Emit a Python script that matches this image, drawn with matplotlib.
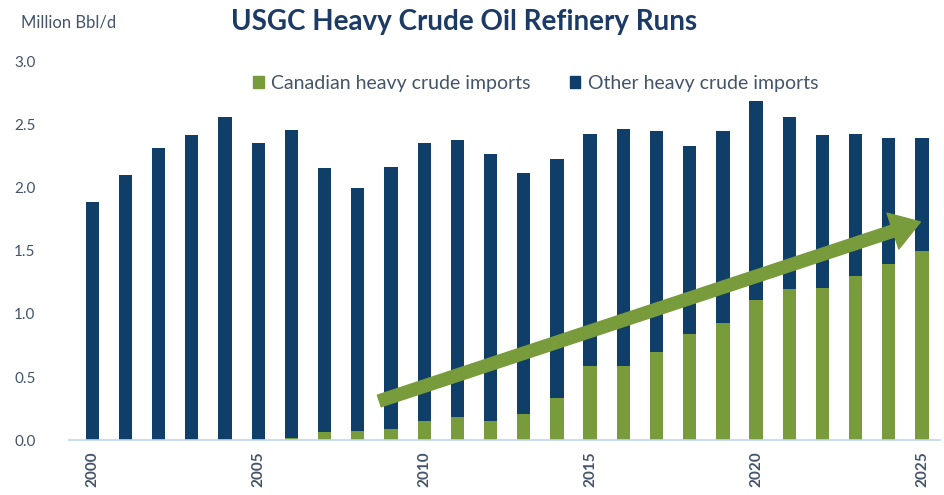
import numpy as np
import matplotlib
matplotlib.use('Agg')
import matplotlib.pyplot as plt
from matplotlib.patches import Patch

# data (million bbl/d)
years = list(range(2000, 2026))
total_runs = [1.89, 2.10, 2.32, 2.42, 2.56, 2.36, 2.46, 2.16, 2.00, 2.17,
              2.36, 2.38, 2.27, 2.12, 2.23, 2.43, 2.47, 2.45, 2.33, 2.45,
              2.69, 2.56, 2.42, 2.43, 2.40, 2.40]
canadian = [0.0, 0.0, 0.0, 0.0, 0.0, 0.0, 0.02, 0.06, 0.07, 0.09,
            0.15, 0.18, 0.15, 0.21, 0.33, 0.59, 0.59, 0.70, 0.84, 0.93,
            1.11, 1.20, 1.21, 1.30, 1.40, 1.50]
tick_years = [2000, 2005, 2010, 2015, 2020, 2025]

navy = '#0f3e68'
green = '#789b3c'
text_col = '#44546a'
title_col = '#1b3a66'

plt.rcParams['font.family'] = ['Lato', 'DejaVu Sans']

x = np.array(years)
other = np.array(total_runs) - np.array(canadian)

fig = plt.figure(figsize=(9.45, 4.95), dpi=100)
ax = fig.add_axes([0.073, 0.111, 0.922, 0.764])

ax.bar(x, canadian, width=0.4, color=green)
ax.bar(x, other, width=0.4, bottom=canadian, color=navy)

ax.set_xlim(1999.3, 2025.55)
ax.set_ylim(0, 3.0)
ax.set_yticks(np.arange(0, 3.01, 0.5))
ax.set_yticklabels(['%.1f' % v for v in np.arange(0, 3.01, 0.5)])
ax.set_xticks(tick_years)
ax.set_xticklabels([str(y) for y in tick_years], rotation=90, fontweight='bold')
ax.tick_params(axis='y', length=0, pad=24, labelsize=11, labelcolor=text_col)
ax.tick_params(axis='x', length=0, pad=8, labelsize=11, labelcolor=text_col)

for s in ['top', 'right', 'left']:
    ax.spines[s].set_visible(False)
ax.spines['bottom'].set_color('#bdd7ee')
ax.spines['bottom'].set_linewidth(1.2)

# trend arrow
ax.annotate('', xy=(2024.95, 1.73), xytext=(2008.65, 0.31),
            arrowprops=dict(arrowstyle='simple,head_width=1.7,head_length=1.3,tail_width=0.55',
                            color=green, mutation_scale=16, shrinkA=0, shrinkB=0))

handles = [Patch(color=green, label='Canadian heavy crude imports'),
           Patch(color=navy, label='Other heavy crude imports')]
leg = fig.legend(handles=handles, loc='center', bbox_to_anchor=(0.567, 0.832), ncol=2,
                 frameon=False, fontsize=14, handlelength=0.55, handleheight=0.55,
                 handletextpad=0.4, columnspacing=2.0)
for t in leg.get_texts():
    t.set_color(text_col)

fig.text(0.022, 0.955, 'Million Bbl/d', fontsize=12, color=text_col, va='center')
fig.text(0.244, 0.955, 'USGC Heavy Crude Oil Refinery Runs', fontsize=20,
         fontweight='bold', color=title_col, va='center')

fig.savefig('out.png', dpi=100)
